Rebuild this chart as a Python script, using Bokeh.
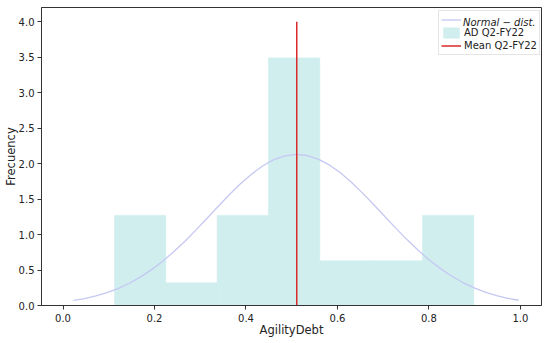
from bokeh.plotting import figure
from bokeh.models import (ColumnDataSource, Range1d, FixedTicker, PrintfTickFormatter,
                          Legend, LegendItem)
from bokeh.embed import file_html
from bokeh.resources import INLINE

# ---- data ----
bin_edges = [0.1126, 0.2248, 0.3370, 0.4492, 0.5614, 0.6736, 0.7858, 0.8980]
density = [1.27, 0.32, 1.27, 3.49, 0.63, 0.63, 1.27]

curve_x = [0.023, 0.047, 0.072, 0.096, 0.120, 0.145, 0.169, 0.193, 0.218, 0.242,
           0.266, 0.291, 0.315, 0.339, 0.364, 0.388, 0.412, 0.437, 0.461, 0.485,
           0.510, 0.534, 0.558, 0.583, 0.607, 0.631, 0.656, 0.680, 0.704, 0.729,
           0.753, 0.777, 0.802, 0.826, 0.850, 0.875, 0.899, 0.923, 0.948, 0.972, 0.996]
curve_y = [0.071, 0.098, 0.135, 0.182, 0.239, 0.314, 0.400, 0.502, 0.624, 0.757,
           0.903, 1.066, 1.230, 1.395, 1.564, 1.716, 1.851, 1.970, 2.055, 2.110,
           2.130, 2.114, 2.064, 1.978, 1.867, 1.734, 1.577, 1.416, 1.251, 1.080,
           0.922, 0.774, 0.635, 0.516, 0.412, 0.320, 0.248, 0.188, 0.139, 0.102, 0.074]

mean_value = 0.511
mean_line_top = 4.0

x_ticks = [0.0, 0.2, 0.4, 0.6, 0.8, 1.0]
y_ticks = [0.0, 0.5, 1.0, 1.5, 2.0, 2.5, 3.0, 3.5, 4.0]

label_normal = "Normal − dist."
label_hist = "AD Q2-FY22"
label_mean = "Mean Q2-FY22"

FONT = "DejaVu Sans"

p = figure(width=550, height=343, output_backend="svg", toolbar_location=None,
           x_range=Range1d(-0.047, 1.046), y_range=Range1d(0, 4.2),
           min_border_left=0, min_border_right=9, min_border_top=7, min_border_bottom=38)
p.background_fill_color = "white"
p.border_fill_color = "white"
p.outline_line_color = "#333333"
p.outline_line_width = 1
p.xgrid.visible = False
p.ygrid.visible = False

hist_src = ColumnDataSource(dict(left=bin_edges[:-1], right=bin_edges[1:], top=density,
                                 bottom=[0] * len(density)))
r_hist = p.quad(left="left", right="right", top="top", bottom="bottom", source=hist_src,
                fill_color="#d0eeee", line_color="#d0eeee", line_width=0.6)

curve_src = ColumnDataSource(dict(x=curve_x, y=curve_y))
r_curve = p.line("x", "y", source=curve_src, line_color="#c5c8f2", line_width=1.3)
r_dummy = p.line("x", "y", source=curve_src, line_alpha=0)

mean_src = ColumnDataSource(dict(x=[mean_value, mean_value], y=[0, mean_line_top]))
r_mean = p.line("x", "y", source=mean_src, line_color="#d92a2a", line_width=1.5)

for ax in (p.xaxis[0], p.yaxis[0]):
    ax.axis_line_color = "#333333"
    ax.major_tick_line_color = "#333333"
    ax.minor_tick_line_color = None
    ax.major_tick_out = 4
    ax.major_tick_in = 0
    ax.major_label_text_font = FONT
    ax.major_label_text_font_size = "10px"
    ax.major_label_text_color = "#222222"
    ax.axis_label_text_font = FONT
    ax.axis_label_text_font_size = "11.5px"
    ax.axis_label_text_font_style = "normal"
    ax.axis_label_text_color = "#222222"
    ax.formatter = PrintfTickFormatter(format="%.1f")

p.xaxis.ticker = FixedTicker(ticks=x_ticks)
p.yaxis.ticker = FixedTicker(ticks=y_ticks)
p.xaxis.axis_label = "AgilityDebt"
p.yaxis.axis_label = "Frecuency"
p.xaxis.major_label_standoff = 4
p.xaxis.axis_label_standoff = -2
p.yaxis.major_label_standoff = 3
p.yaxis.axis_label_standoff = -2

def make_legend(items, italic, border, loc):
    lg = Legend(items=items, location=loc, orientation="vertical")
    lg.label_text_font = FONT
    lg.label_text_font_size = "10px"
    lg.label_text_color = "#222222"
    lg.label_text_font_style = "italic" if italic else "normal"
    lg.label_width = 72
    lg.label_height = 13
    lg.label_standoff = 3
    lg.glyph_width = 20
    lg.glyph_height = 13
    lg.spacing = 0
    lg.padding = 2
    lg.margin = 0
    if border:
        lg.border_line_color = "#cccccc"
        lg.border_line_width = 1
        lg.background_fill_color = "white"
        lg.background_fill_alpha = 0.8
    else:
        lg.border_line_color = None
        lg.background_fill_alpha = 0
    return lg

legend_a = make_legend([LegendItem(label=" ", renderers=[r_curve]),
                        LegendItem(label=label_hist, renderers=[r_hist]),
                        LegendItem(label=label_mean, renderers=[r_mean])], False, True, (397, 250))
legend_b = make_legend([LegendItem(label=label_normal, renderers=[r_dummy])], True, False, (399, 276))
p.add_layout(legend_a)
p.add_layout(legend_b)

open("out.html", "w").write(file_html(p, INLINE))
